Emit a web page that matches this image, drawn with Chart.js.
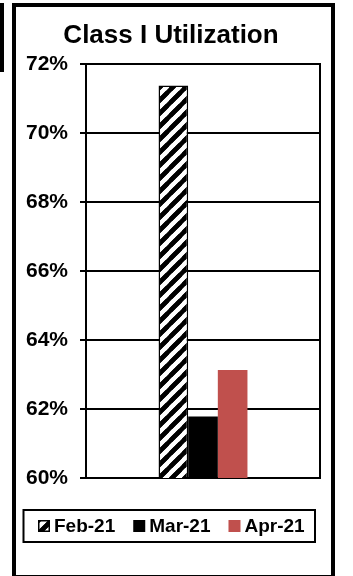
<!DOCTYPE html>
<html>
<head>
<meta charset="utf-8">
<script src="https://cdn.jsdelivr.net/npm/chart.js@4/dist/chart.umd.min.js"></script>
<style>
html,body{margin:0;padding:0;background:#fff;}
#wrap{position:relative;width:353px;height:576px;}
</style>
</head>
<body>
<div id="wrap"><canvas id="c" width="353" height="576"></canvas></div>
<script>
// ---- data ----
const chartTitle = 'Class I Utilization';
const categories = ['Class I'];
const seriesNames = ['Feb-21', 'Mar-21', 'Apr-21'];
const febValues = [71.38];
const marValues = [61.78];
const aprValues = [63.13];
const yMin = 60, yMax = 72, yStep = 2;

const FONT = "'Liberation Sans', Arial, sans-serif";
const canvas = document.getElementById('c');
const ctx = canvas.getContext('2d');

function makeHatch() {
  const s = 13;
  const c = document.createElement('canvas');
  c.width = s; c.height = s;
  const g = c.getContext('2d');
  g.fillStyle = '#fff'; g.fillRect(0, 0, s, s);
  g.strokeStyle = '#000'; g.lineWidth = 4.5;
  g.beginPath();
  g.moveTo(-s, s); g.lineTo(s, -s);
  g.moveTo(0, s * 2); g.lineTo(s * 2, 0);
  g.moveTo(-s / 2, s * 1.5); g.lineTo(s * 1.5, -s / 2);
  g.stroke();
  // ensure seamless: draw lines through the corner tiles
  g.beginPath();
  g.moveTo(-s, 2 * s); g.lineTo(2 * s, -s);
  g.stroke();
  return ctx.createPattern(c, 'repeat');
}
const hatch = makeHatch();
const seriesColors = [hatch, '#000000', '#C0504D'];

const framePlugin = {
  id: 'frame',
  beforeDraw(chart) {
    const g = chart.ctx;
    g.save();
    g.fillStyle = '#fff';
    g.fillRect(0, 0, chart.width, chart.height);
    g.restore();
  },
  beforeDatasetsDraw(chart) {
    const a = chart.chartArea;
    const g = chart.ctx;
    g.save();
    g.strokeStyle = '#000';
    g.lineWidth = 2;
    g.strokeRect(Math.round(a.left), Math.round(a.top), Math.round(a.right - a.left), Math.round(a.bottom - a.top));
    g.restore();
  },
  afterDraw(chart) {
    const g = chart.ctx;
    g.save();
    // left fragment bar
    g.fillStyle = '#000';
    g.fillRect(0, 3, 4, 69);
    // outer frame
    g.strokeStyle = '#000';
    g.lineWidth = 4;
    g.strokeRect(14, 5, 319, 572);
    // title
    g.fillStyle = '#000';
    g.font = 'bold 26px ' + FONT;
    g.textAlign = 'center';
    g.textBaseline = 'alphabetic';
    g.fillText(chartTitle, 171, 43);
    // legend box
    g.lineWidth = 2;
    g.strokeRect(23.5, 510, 291.5, 32);
    g.font = 'bold 19px ' + FONT;
    g.textAlign = 'left';
    const widths = seriesNames.map(n => g.measureText(n).width);
    const box = 12, gapText = 4, gapItem = 18;
    let total = 0;
    widths.forEach((w, i) => { total += box + gapText + w + (i < widths.length - 1 ? gapItem : 0); });
    let x = Math.round(171.5 - total / 2);
    chart.data.datasets.forEach((ds, i) => {
      g.fillStyle = ds.backgroundColor;
      g.fillRect(x, 520, box, box);
      if (i === 0) {
        g.lineWidth = 1.5;
        g.strokeStyle = '#000';
        g.strokeRect(x + 0.75, 520.75, box - 1.5, box - 1.5);
      }
      g.fillStyle = '#000';
      g.fillText(seriesNames[i], x + box + gapText, 532);
      x += box + gapText + widths[i] + gapItem;
    });
    g.restore();
  }
};

new Chart(ctx, {
  type: 'bar',
  data: {
    labels: categories,
    datasets: [
      { label: seriesNames[0], data: febValues, backgroundColor: seriesColors[0], borderColor: '#000', borderWidth: 1.5, borderSkipped: false },
      { label: seriesNames[1], data: marValues, backgroundColor: seriesColors[1], borderWidth: 0 },
      { label: seriesNames[2], data: aprValues, backgroundColor: seriesColors[2], borderWidth: 0 }
    ]
  },
  options: {
    responsive: false,
    animation: false,
    devicePixelRatio: 1,
    layout: { padding: { left: 0, right: 33, top: 64, bottom: 98 } },
    datasets: { bar: { categoryPercentage: 0.38, barPercentage: 1.0 } },
    plugins: {
      legend: { display: false },
      title: { display: false },
      tooltip: { enabled: false }
    },
    scales: {
      x: { display: false },
      y: {
        min: yMin, max: yMax,
        afterFit(scale) { scale.width = 86; },
        ticks: {
          stepSize: yStep,
          color: '#000',
          padding: 12,
          font: { family: FONT, size: 21, weight: 'bold' },
          callback: v => v + '%'
        },
        grid: { color: '#000', lineWidth: 2, tickLength: 6, drawTicks: true },
        border: { display: true, color: '#000', width: 2 }
      }
    }
  },
  plugins: [framePlugin]
});
</script>
</body>
</html>
